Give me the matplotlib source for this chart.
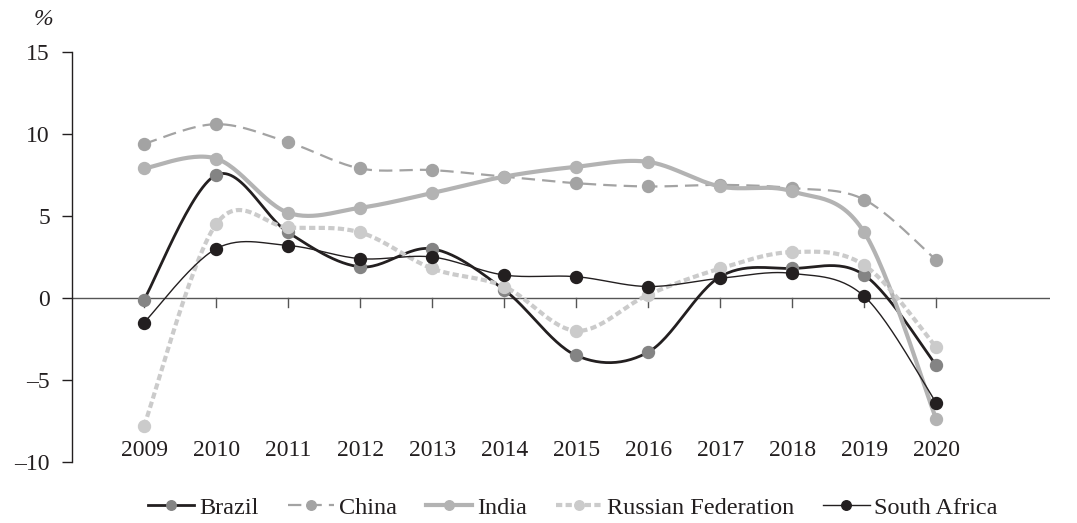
import numpy as np
import matplotlib
matplotlib.use("Agg")
import matplotlib.pyplot as plt
from matplotlib.lines import Line2D

years = [2009, 2010, 2011, 2012, 2013, 2014, 2015, 2016, 2017, 2018, 2019, 2020]
brazil = [-0.1, 7.5, 4.0, 1.9, 3.0, 0.5, -3.5, -3.3, 1.3, 1.8, 1.4, -4.1]
china = [9.4, 10.6, 9.5, 7.9, 7.8, 7.4, 7.0, 6.8, 6.9, 6.7, 6.0, 2.3]
india = [7.9, 8.5, 5.2, 5.5, 6.4, 7.4, 8.0, 8.3, 6.8, 6.5, 4.0, -7.4]
russia = [-7.8, 4.5, 4.3, 4.0, 1.8, 0.7, -2.0, 0.2, 1.8, 2.8, 2.0, -3.0]
south_africa = [-1.5, 3.0, 3.2, 2.4, 2.5, 1.4, 1.3, 0.7, 1.2, 1.5, 0.1, -6.4]
names = ["Brazil", "China", "India", "Russian Federation", "South Africa"]
yticks = [15, 10, 5, 0, -5, -10]

plt.rcParams['font.family'] = ['Liberation Serif', 'DejaVu Serif']


def smooth(x, y, n=30):
    x = np.asarray(x, float)
    y = np.asarray(y, float)
    P = np.column_stack([x, y])
    out = [P[0]]
    for i in range(len(P) - 1):
        p0 = P[i - 1] if i > 0 else P[i]
        p1 = P[i]
        p2 = P[i + 1]
        p3 = P[i + 2] if i + 2 < len(P) else P[i + 1]
        c1 = p1 + (p2 - p0) / 6.0
        c2 = p2 - (p3 - p1) / 6.0
        t = np.linspace(0, 1, n)[1:, None]
        seg = ((1 - t) ** 3) * p1 + 3 * ((1 - t) ** 2) * t * c1 + 3 * (1 - t) * t ** 2 * c2 + t ** 3 * p2
        out.extend(seg)
    out = np.array(out)
    return out[:, 0], out[:, 1]


fig = plt.figure(figsize=(10.77, 5.23), dpi=100)
ax = fig.add_axes([0.0669, 0.1166, 0.975 - 0.0669, 0.9006 - 0.1166])

styles = [
    dict(data=brazil, lc='#231f20', mc='#848484', lw=2.0, ls='-'),
    dict(data=china, lc='#a3a3a3', mc='#a3a3a3', lw=1.6, ls=(0, (6, 3.2))),
    dict(data=india, lc='#b3b3b3', mc='#b3b3b3', lw=3.0, ls='-'),
    dict(data=russia, lc='#cbcbcb', mc='#cbcbcb', lw=3.0, ls=(0, (1.5, 0.8))),
    dict(data=south_africa, lc='#231f20', mc='#231f20', lw=1.0, ls='-'),
]

ms = 8.6
handles = []
for z, (name, s) in enumerate(zip(names, styles)):
    sx, sy = smooth(years, s['data'])
    ax.plot(sx, sy, color=s['lc'], lw=s['lw'], ls=s['ls'], zorder=3 + z,
            solid_capstyle='butt', dash_capstyle='butt')
    ax.plot(years, s['data'], ls='none', marker='o', ms=ms, mfc=s['mc'], mec=s['mc'],
            zorder=3 + z)
    handles.append(Line2D([0], [0], color=s['lc'], lw=s['lw'], ls=s['ls'],
                          marker='o', ms=ms * 0.8, mfc=s['mc'], mec=s['mc']))

ax.set_xlim(2008, 2021.58)
ax.set_ylim(-10, 15)

for sp in ['top', 'right', 'bottom']:
    ax.spines[sp].set_visible(False)
ax.spines['left'].set_color('#231f20')
ax.spines['left'].set_linewidth(1.0)

ax.set_yticks(yticks)
ax.set_yticklabels([str(v).replace('-', '–') for v in yticks], fontsize=17, color='#231f20')
ax.tick_params(axis='y', direction='out', length=7, width=1, color='#231f20', pad=9)

ax.axhline(0, color='#555555', lw=1.0, zorder=2)
ax.set_xticks([])
for yr in years:
    ax.plot([yr, yr], [0, -0.55], color='#555555', lw=1.0, zorder=2, clip_on=False)
    ax.text(yr, -9.3, str(yr), ha='center', va='center', fontsize=17, color='#231f20')

fig.text(0.031, 0.962, '%', fontsize=17, style='italic', ha='left', va='center', color='#231f20')

fig.legend(handles, names, loc='center', bbox_to_anchor=(0.532, 0.029), ncol=5, frameon=False,
           fontsize=17.5, handlelength=1.9, handletextpad=0.2, columnspacing=1.2,
           labelcolor='#231f20', borderpad=0.0)

fig.savefig('out.png', dpi=100)
